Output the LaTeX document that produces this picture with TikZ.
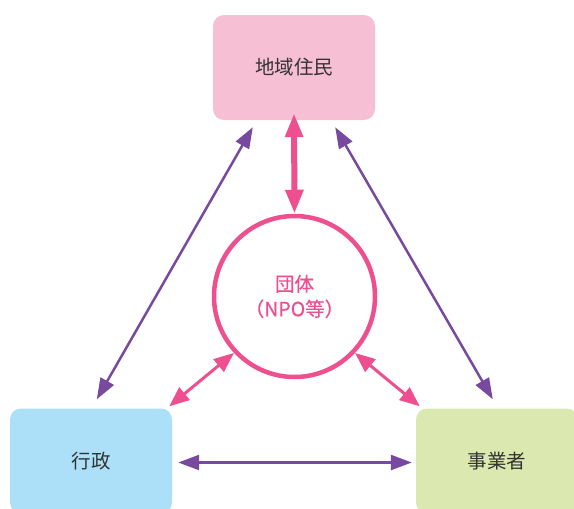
\documentclass[tikz,border=0pt]{standalone}
\usepackage{fontspec}
\setmainfont{Noto Sans CJK JP}
\newfontfamily\jpfont{Noto Sans CJK JP}
\newfontfamily\jpfontmed[FakeBold=0.6]{Noto Sans CJK JP}
\usetikzlibrary{arrows.meta}
\definecolor{vpurple}{RGB}{119,74,159}
\definecolor{vpink}{RGB}{238,79,143}
\definecolor{boxpink}{RGB}{246,191,212}
\definecolor{boxblue}{RGB}{172,224,248}
\definecolor{boxgreen}{RGB}{219,232,175}
\definecolor{txt}{RGB}{51,51,51}
\tikzset{
  actor/.style={rectangle, rounded corners=11pt, minimum width=162pt, minimum height=105pt, inner sep=0pt, text=txt, font=\jpfont\fontsize{19.5}{24}\selectfont},
  hub/.style={circle, draw=vpink, line width=4.5pt, minimum size=161pt, inner sep=0pt, text=vpink, align=center, font=\jpfontmed\fontsize{19.5}{25}\selectfont},
  purplelink/.style={draw=vpurple, line width=2.5pt, {Triangle[length=21pt,width=15pt]}-{Triangle[length=21pt,width=15pt]}},
  pinklink/.style={draw=vpink, line width=3pt, {Triangle[length=20pt,width=16pt]}-{Triangle[length=20pt,width=16pt]}},
  pinkmain/.style={draw=vpink, line width=6pt, {Triangle[length=24pt,width=17pt]}-{Triangle[length=24pt,width=17pt]}}
}
\begin{document}
\begin{tikzpicture}[x=1pt,y=-1pt]
\useasboundingbox (0,0) rectangle (574,509);
\clip (0,0) rectangle (574,509);
\node[actor, fill=boxpink] (top) at (294,67.5) {地域住民};
\node[actor, fill=boxblue] (left) at (91,461) {行政};
\node[actor, fill=boxgreen] (right) at (497,461) {事業者};
\node[hub] (npo) at (294.5,296.5) {団体\\（NPO等）};
\draw[purplelink] ([shift={(40,7)}]top.south west) -- ([shift={(87,-9)}]left.north west);
\draw[purplelink] ([shift={(-40,7)}]top.south east) -- ([shift={(77,-9)}]right.north west);
\draw[purplelink] ([shift={(6,1.5)}]left.east) -- ([shift={(-4,1.5)}]right.west);
\draw[pinkmain] ([yshift=7]top.south) -- (npo.north);
\draw[pinklink] (npo.223) -- ([shift={(-3,-2)}]left.north east);
\draw[pinklink] (npo.317) -- ([shift={(4,-2)}]right.north west);
\end{tikzpicture}
\end{document}
